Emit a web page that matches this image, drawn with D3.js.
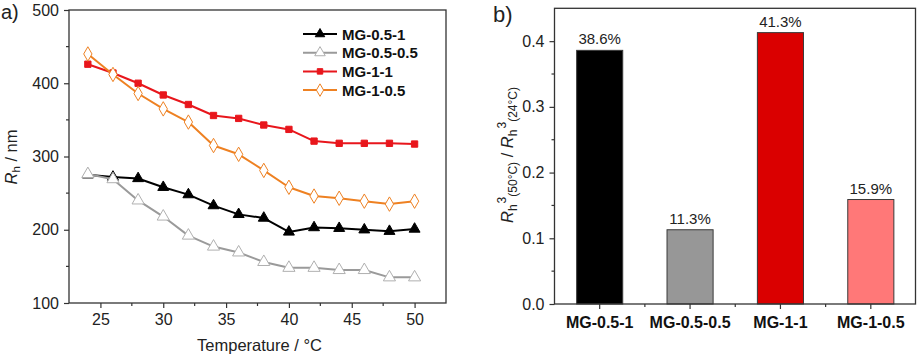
<!DOCTYPE html>
<html>
<head>
<meta charset="utf-8">
<style>
  body { margin: 0; background: #fff; }
  svg { font-family: "Liberation Sans", Arial, sans-serif; }
</style>
<script src="https://cdnjs.cloudflare.com/ajax/libs/d3/7.8.5/d3.min.js"></script>
</head>
<body>
<div id="chart"></div>
<script>
// ---- data ----
var temps = [24, 26, 28, 30, 32, 34, 36, 38, 40, 42, 44, 46, 48, 50];
var mg051  = [275, 272, 270, 258, 248, 233, 221, 216, 197, 203, 202, 200, 198, 201];
var mg0505 = [276, 269, 240, 218, 192, 177, 169, 156, 148, 148, 145, 145, 135, 135];
var mg11   = [426, 414, 400, 384, 371, 356, 352, 343, 337, 321, 318, 318, 318, 317];
var mg105  = [440, 412, 386, 365, 347, 315, 303, 281, 258, 246, 243, 239, 235, 239];
var seriesNames = ["MG-0.5-1", "MG-0.5-0.5", "MG-1-1", "MG-1-0.5"];

var barCats = ["MG-0.5-1", "MG-0.5-0.5", "MG-1-1", "MG-1-0.5"];
var barVals = [0.386, 0.113, 0.413, 0.159];
var barText = ["38.6%", "11.3%", "41.3%", "15.9%"];

var xTicksA = [25, 30, 35, 40, 45, 50];
var yTicksA = [100, 200, 300, 400, 500];
var yTicksB = [0.0, 0.1, 0.2, 0.3, 0.4];

var W = 917, H = 354;
var svg = d3.select("#chart").append("svg").attr("width", W).attr("height", H);

var frameCol = "#333";

// ================= panel a =================
var xA = d3.scaleLinear().domain([22.5, 52.5]).range([69, 446]);
var yA = d3.scaleLinear().domain([100, 500]).range([303, 10]);

var gA = svg.append("g");

function minorTicks(g, scale, vals, orient, pos) {
    vals.forEach(v => {
        if (orient == "x") {
            g.append("line").attr("x1", scale(v)).attr("x2", scale(v))
                .attr("y1", pos).attr("y2", pos + 3).attr("stroke", frameCol).attr("stroke-width", 1.2);
        } else {
            g.append("line").attr("y1", scale(v)).attr("y2", scale(v))
                .attr("x1", pos).attr("x2", pos - 3).attr("stroke", frameCol).attr("stroke-width", 1.2);
        }
    });
}

function styleAxis(ax) {
    ax.select(".domain").remove();
    ax.selectAll(".tick line").attr("stroke", frameCol).attr("stroke-width", 1.2);
    ax.selectAll(".tick text").attr("fill", "#222").style("font-size", "16px")
        .style("font-family", "'Liberation Sans', Arial, sans-serif");
}

gA.append("g").attr("transform", "translate(0,303)")
    .call(d3.axisBottom(xA).tickValues(xTicksA).tickSize(5).tickPadding(6).tickFormat(d3.format("d")))
    .call(styleAxis);
minorTicks(gA, xA, [27.5, 32.5, 37.5, 42.5, 47.5], "x", 303);

gA.append("g").attr("transform", "translate(69,0)")
    .call(d3.axisLeft(yA).tickValues(yTicksA).tickSize(5).tickPadding(5).tickFormat(d3.format("d")))
    .call(styleAxis);
minorTicks(gA, yA, [150, 250, 350, 450], "y", 69);

gA.append("rect").attr("x", 69).attr("y", 10).attr("width", 377).attr("height", 293)
    .attr("fill", "none").attr("stroke", frameCol).attr("stroke-width", 1.3);

var styles = [
    { data: mg051,  line: "#000000", stroke: "#000000", fill: "#000000", sym: d3.symbolTriangle, size: 52 },
    { data: mg0505, line: "#9a9a9a", stroke: "#b0b0b0", fill: "#ffffff", sym: d3.symbolTriangle, size: 64 },
    { data: mg11,   line: "#e8161c", stroke: "#e8161c", fill: "#e8161c", sym: d3.symbolSquare,   size: 40 },
    { data: mg105,  line: "#ee8122", stroke: "#ee8122", fill: "#ffffff", sym: d3.symbolDiamond,  size: 60 }
];

var lineGen = d3.line().x((d, i) => xA(temps[i])).y(d => yA(d));

styles.forEach(s => {
    gA.append("path").datum(s.data).attr("d", lineGen)
        .attr("fill", "none").attr("stroke", s.line).attr("stroke-width", 2)
        .attr("stroke-linejoin", "round");
    gA.selectAll(null).data(s.data).enter().append("path")
        .attr("d", d3.symbol().type(s.sym).size(s.size))
        .attr("transform", (d, i) => "translate(" + xA(temps[i]) + "," + yA(d) + ")")
        .attr("fill", s.fill).attr("stroke", s.stroke).attr("stroke-width", 1);
});

// legend
var leg = gA.append("g");
styles.forEach((s, i) => {
    var ly = 34 + i * 18.7;
    leg.append("line").attr("x1", 303).attr("x2", 337).attr("y1", ly).attr("y2", ly)
        .attr("stroke", s.line).attr("stroke-width", 2);
    leg.append("path").attr("d", d3.symbol().type(s.sym).size(s.size * 0.75))
        .attr("transform", "translate(320," + ly + ")")
        .attr("fill", s.fill).attr("stroke", s.stroke).attr("stroke-width", 1);
    leg.append("text").attr("x", 342).attr("y", ly + 5.5)
        .style("font-size", "15px").style("font-weight", "bold").attr("fill", "#111")
        .text(seriesNames[i]);
});

// axis titles
gA.append("text").attr("x", (69 + 446) / 2 + 2).attr("y", 351).attr("text-anchor", "middle")
    .style("font-size", "16.5px").attr("fill", "#222").text("Temperature / °C");

var yl = gA.append("text").attr("transform", "translate(17,157) rotate(-90)")
    .attr("text-anchor", "middle").style("font-size", "16.5px").attr("fill", "#222");
yl.append("tspan").style("font-style", "italic").text("R");
yl.append("tspan").attr("baseline-shift", "-25%").style("font-size", "11.5px").text("h");
yl.append("tspan").text(" / nm");

svg.append("text").attr("x", 1).attr("y", 19).style("font-size", "20px").attr("fill", "#222").text("a)");

// ================= panel b =================
var xB = d3.scaleBand().domain(barCats).range([554.5, 916]).paddingInner(0.49).paddingOuter(0.245);
var yB = d3.scaleLinear().domain([0, 0.45]).range([304, 8.3]);
var gB = svg.append("g");

gB.selectAll("rect.bar").data(barVals).enter().append("rect")
    .attr("class", "bar")
    .attr("x", (d, i) => xB(barCats[i]))
    .attr("width", xB.bandwidth())
    .attr("y", d => yB(d))
    .attr("height", d => yB(0) - yB(d))
    .attr("fill", (d, i) => ["#000000", "#979797", "#da0000", "#ff7878"][i])
    .attr("stroke", "#3a3a3a").attr("stroke-width", 1);

gB.selectAll("text.val").data(barVals).enter().append("text")
    .attr("class", "val")
    .attr("x", (d, i) => xB(barCats[i]) + xB.bandwidth() / 2)
    .attr("y", d => yB(d) - 6)
    .attr("text-anchor", "middle").style("font-size", "15px").attr("fill", "#222")
    .text((d, i) => barText[i]);

var axB = gB.append("g").attr("transform", "translate(0,304)")
    .call(d3.axisBottom(xB).tickSize(5).tickPadding(8))
    .call(styleAxis);
axB.selectAll(".tick text").style("font-weight", "bold").attr("fill", "#111");

var stepB = xB.step();
barCats.slice(0, 3).forEach(c => {
    var bx = xB(c) + xB.bandwidth() / 2 + stepB / 2;
    gB.append("line").attr("x1", bx).attr("x2", bx).attr("y1", 304).attr("y2", 307)
        .attr("stroke", frameCol).attr("stroke-width", 1.2);
});

gB.append("g").attr("transform", "translate(554.5,0)")
    .call(d3.axisLeft(yB).tickValues(yTicksB).tickSize(5).tickPadding(5).tickFormat(d3.format(".1f")))
    .call(styleAxis);
minorTicks(gB, yB, [0.05, 0.15, 0.25, 0.35], "y", 554.5);

gB.append("rect").attr("x", 554.5).attr("y", 8.3).attr("width", 361).attr("height", 304 - 8.3)
    .attr("fill", "none").attr("stroke", frameCol).attr("stroke-width", 1.3);

var yl2 = gB.append("text").attr("transform", "translate(513,155) rotate(-90)")
    .attr("text-anchor", "middle").style("font-size", "16.5px").attr("fill", "#222");
yl2.append("tspan").style("font-style", "italic").text("R");
yl2.append("tspan").attr("dy", 4).style("font-size", "12px").text("h");
yl2.append("tspan").attr("dy", -11).attr("dx", 1).style("font-size", "12px").text("3");
yl2.append("tspan").attr("dy", 11).style("font-size", "12px").text("(50°C)");
yl2.append("tspan").attr("dy", -4).text(" / ");
yl2.append("tspan").style("font-style", "italic").text("R");
yl2.append("tspan").attr("dy", 4).style("font-size", "12px").text("h");
yl2.append("tspan").attr("dy", -11).attr("dx", 1).style("font-size", "12px").text("3");
yl2.append("tspan").attr("dy", 11).style("font-size", "12px").text("(24°C)");

svg.append("text").attr("x", 493).attr("y", 22).style("font-size", "22px").attr("fill", "#222").text("b)");
</script>
</body>
</html>
